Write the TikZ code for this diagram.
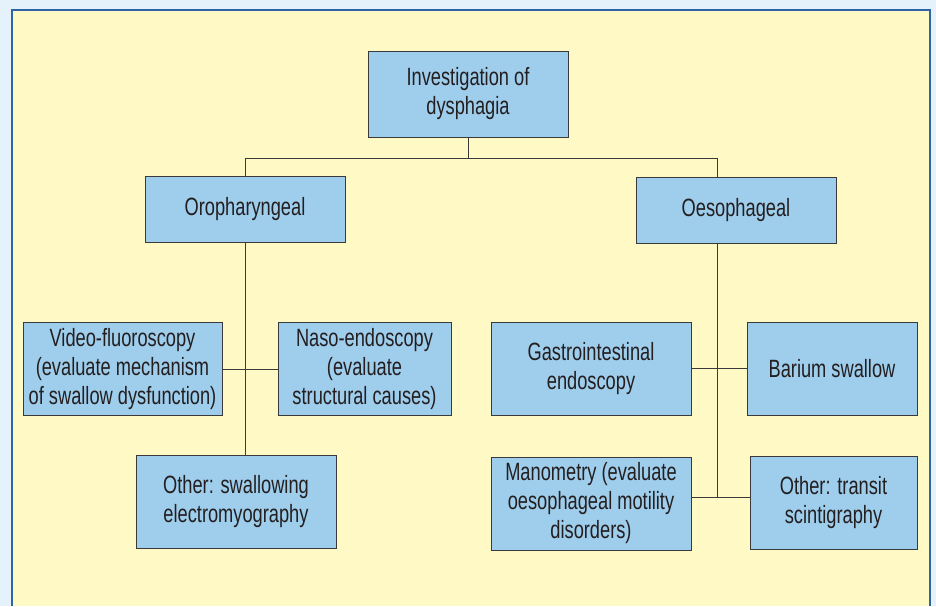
\documentclass[tikz,border=0pt]{standalone}
\usepackage{fontspec}
\setmainfont{Liberation Sans}[FakeStretch=0.73]
\usetikzlibrary{positioning}
\definecolor{outerbg}{HTML}{E5F1FB}
\definecolor{panelbg}{HTML}{FFF9C6}
\definecolor{frameblue}{HTML}{2F64A6}
\definecolor{boxfill}{HTML}{9FCDEC}
\definecolor{boxline}{HTML}{3A3A3A}
\definecolor{inktext}{HTML}{231F20}
\tikzset{
	box/.style={draw=boxline, fill=boxfill, line width=1pt, inner sep=0pt,
		align=center, text=inktext, font=\fontsize{25}{29}\selectfont},
	link/.style={draw=boxline, line width=1pt}
}
\begin{document}
\begin{tikzpicture}[x=1pt, y=-1pt]
	\useasboundingbox (0,0) rectangle (936,606);
	% Hintergrund und Rahmen
	\fill[outerbg] (0,0) rectangle (936,606);
	\fill[panelbg] (12,10) rectangle (930,606);
	\draw[frameblue, line width=2pt] (12,606) -- (12,10) -- (930,10) -- (930,606);

	% Kaesten
	\node[box, minimum width=200pt, minimum height=86pt] (top) at (468,94)
		{Investigation of\\dysphagia};
	\node[box, minimum width=200pt, minimum height=66pt] (oro) at (245,209)
		{Oropharyngeal};
	\node[box, minimum width=200pt, minimum height=66pt] (oeso) at (736,210)
		{Oesophageal};
	\node[box, minimum width=199pt, minimum height=93pt] (vfs) at (122.5,369)
		{Video-fluoroscopy\\(evaluate mechanism\\of swallow dysfunction)};
	\node[box, minimum width=173pt, minimum height=93pt] (naso) at (364.5,369)
		{Naso-endoscopy\\(evaluate\\structural causes)};
	\node[box, minimum width=200pt, minimum height=93pt] (emg) at (236,501.5)
		{Other: swallowing\\electromyography};
	\node[box, minimum width=200pt, minimum height=93pt] (gastro) at (591,368.5)
		{Gastrointestinal\\endoscopy};
	\node[box, minimum width=170pt, minimum height=93pt] (barium) at (832,368.5)
		{Barium swallow};
	\node[box, minimum width=200pt, minimum height=93pt] (mano) at (591,503.5)
		{Manometry (evaluate\\oesophageal motility\\disorders)};
	\node[box, minimum width=167pt, minimum height=93pt] (transit) at (833.5,502.5)
		{Other: transit\\scintigraphy};

	% Verbindungen
	\coordinate (busL) at (245,158);
	\coordinate (busR) at (717,158);
	\coordinate (junc) at (717,497);
	\draw[link] (top.south) -- (top.south |- busL);
	\draw[link] (oro.north) -- (busL) -- (busR) -- (busR |- oeso.north);
	\draw[link] (oro.south) -- (oro.south |- emg.north);
	\draw[link] (vfs.east) -- (naso.west);
	\draw[link] (busR |- oeso.south) -- (junc);
	\draw[link] (gastro.east) -- (barium.west);
	\draw[link] (mano.east |- junc) -- (transit.west |- junc);
\end{tikzpicture}
\end{document}
